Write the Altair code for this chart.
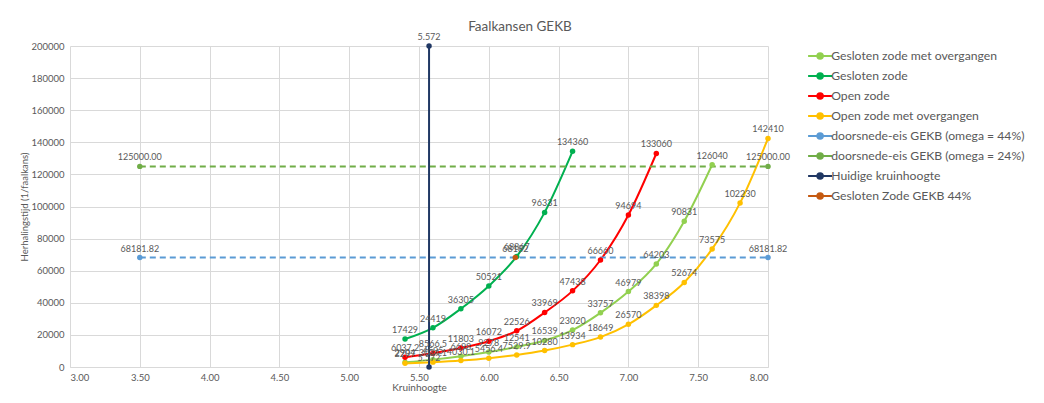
import altair as alt
import pandas as pd

FONT = "Lato"
GRAY = "#595959"

series_names = [
    "Gesloten zode met overgangen",
    "Gesloten zode",
    "Open zode",
    "Open zode met overgangen",
    "doorsnede-eis GEKB (omega = 44%)",
    "doorsnede-eis GEKB (omega = 24%)",
    "Huidige kruinhoogte",
    "Gesloten Zode GEKB 44%",
]
series_colors = ["#92D050", "#00B050", "#FF0000", "#FFC000",
                 "#5B9BD5", "#70AD47", "#203864", "#C55A11"]

# Gesloten zode met overgangen
gzo_x = [5.4, 5.6, 5.8, 6.0, 6.2, 6.4, 6.6, 6.8, 7.0, 7.2, 7.4, 7.6]
gzo_y = [2904, 4595, 6698, 9278, 12541, 16539, 23020, 33757, 46979, 64203, 90831, 126040]
# Gesloten zode
gz_x = [5.4, 5.6, 5.8, 6.0, 6.2, 6.4, 6.6]
gz_y = [17429, 24419, 36305, 50521, 68867, 96331, 134360]
# Open zode
oz_x = [5.4, 5.6, 5.8, 6.0, 6.2, 6.4, 6.6, 6.8, 7.0, 7.2]
oz_y = [6037.2, 8566.5, 11803, 16072, 22526, 33969, 47438, 66660, 94694, 133060]
# Open zode met overgangen
ozo_x = [5.4, 5.6, 5.8, 6.0, 6.2, 6.4, 6.6, 6.8, 7.0, 7.2, 7.4, 7.6, 7.8, 8.0]
ozo_y = [2297, 3034.1, 4030.1, 5456.4, 7529.9, 10280, 13934, 18649, 26570, 38398,
         52674, 73575, 102230, 142410]
# doorsnede-eis 44%
d44_x = [3.5, 8.0]
d44_y = [68181.82, 68181.82]
d44_labels = ["68181.82", "68181.82"]
# doorsnede-eis 24%
d24_x = [3.5, 8.0]
d24_y = [125000.00, 125000.00]
d24_labels = ["125000.00", "125000.00"]
# Huidige kruinhoogte
hk_x = [5.572, 5.572]
hk_y = [0, 200000]
hk_labels = ["5.572", "5.572"]
# Gesloten Zode GEKB 44%
gk_x = [6.19]
gk_y = [68181.82]
gk_labels = ["68182"]

x_ticks = [3.0, 3.5, 4.0, 4.5, 5.0, 5.5, 6.0, 6.5, 7.0, 7.5, 8.0]
y_ticks = list(range(0, 200001, 20000))


def fmt(v):
    return f"{v:g}" if float(v).is_integer() else f"{v:.1f}"


rows = []


def add(name, xs, ys, labels=None):
    for i, (x, y) in enumerate(zip(xs, ys)):
        lab = labels[i] if labels else fmt(y)
        rows.append({"series": name, "x": x, "y": y, "label": lab, "idx": i})


add(series_names[0], gzo_x, gzo_y)
add(series_names[1], gz_x, gz_y)
add(series_names[2], oz_x, oz_y)
add(series_names[3], ozo_x, ozo_y)
add(series_names[4], d44_x, d44_y, d44_labels)
add(series_names[5], d24_x, d24_y, d24_labels)
add(series_names[6], hk_x, hk_y, hk_labels)
add(series_names[7], gk_x, gk_y, gk_labels)

df = pd.DataFrame(rows)

curve_names = series_names[:4]
straight_names = series_names[4:7]

xenc = alt.X("x:Q", scale=alt.Scale(domain=[3, 8], nice=False, zero=False),
             axis=alt.Axis(values=x_ticks, format=".2f", ticks=False, grid=True,
                           gridColor="#D9D9D9", domainColor="#D9D9D9",
                           labelFontSize=9.5, labelColor=GRAY, labelFont=FONT,
                           labelPadding=5, title="Kruinhoogte", titleFont=FONT,
                           titleFontSize=10, titleFontWeight="normal",
                           titleColor=GRAY, titlePadding=1))
yenc = alt.Y("y:Q", scale=alt.Scale(domain=[0, 200000], nice=False),
             axis=alt.Axis(values=y_ticks, format="d", ticks=False, grid=True,
                           gridColor="#D9D9D9", domain=False,
                           labelFontSize=9.5, labelColor=GRAY, labelFont=FONT,
                           labelPadding=6, title="Herhalingstijd (1/faalkans)",
                           titleFont=FONT, titleFontSize=9.5, titleFontWeight="normal",
                           titleColor=GRAY, titlePadding=1))

legend = alt.Legend(
    title=None, orient="none", legendX=744, legendY=4,
    labelFont=FONT, labelFontSize=12.2, labelColor=GRAY, labelLimit=320,
    symbolType="M-2.4,0L2.4,0M-0.55,0A0.55,0.55,0,1,0,0.55,0A0.55,0.55,0,1,0,-0.55,0Z",
    symbolSize=100, symbolStrokeWidth=2, labelOffset=5, rowPadding=6,
)
color = alt.Color("series:N", scale=alt.Scale(domain=series_names, range=series_colors),
                  legend=legend)

base = alt.Chart(df)

curves = base.transform_filter(
    alt.FieldOneOfPredicate(field="series", oneOf=curve_names)
).mark_line(interpolate="monotone", strokeWidth=2).encode(
    x=xenc, y=yenc, color=color, order="idx:Q"
)

straight = base.transform_filter(
    alt.FieldOneOfPredicate(field="series", oneOf=straight_names)
).mark_line(strokeWidth=2).encode(
    x=xenc, y=yenc, color=color, order="idx:Q",
    strokeDash=alt.StrokeDash(
        "series:N",
        scale=alt.Scale(domain=straight_names, range=[[6, 4], [6, 4], [1, 0]]),
        legend=None),
)

points = base.mark_point(filled=True, size=30, opacity=1).encode(
    x=xenc, y=yenc, color=color
)

labels = base.mark_text(dy=-9, fontSize=9, font=FONT, color=GRAY).encode(
    x=xenc, y=yenc, text="label:N"
)

chart = alt.layer(curves, straight, points, labels).properties(
    width=698, height=321,
    padding={"left": 62, "top": 38, "right": 268, "bottom": 28},
    autosize=alt.AutoSizeParams(type="none"),
    title=alt.TitleParams("Faalkansen GEKB", font=FONT, fontSize=13.5,
                          fontWeight="normal", color=GRAY, anchor="middle",
                          dx=101, offset=0),
).configure_view(stroke=None)

chart.save("out.html", embed_options={"renderer": "svg", "actions": False})
